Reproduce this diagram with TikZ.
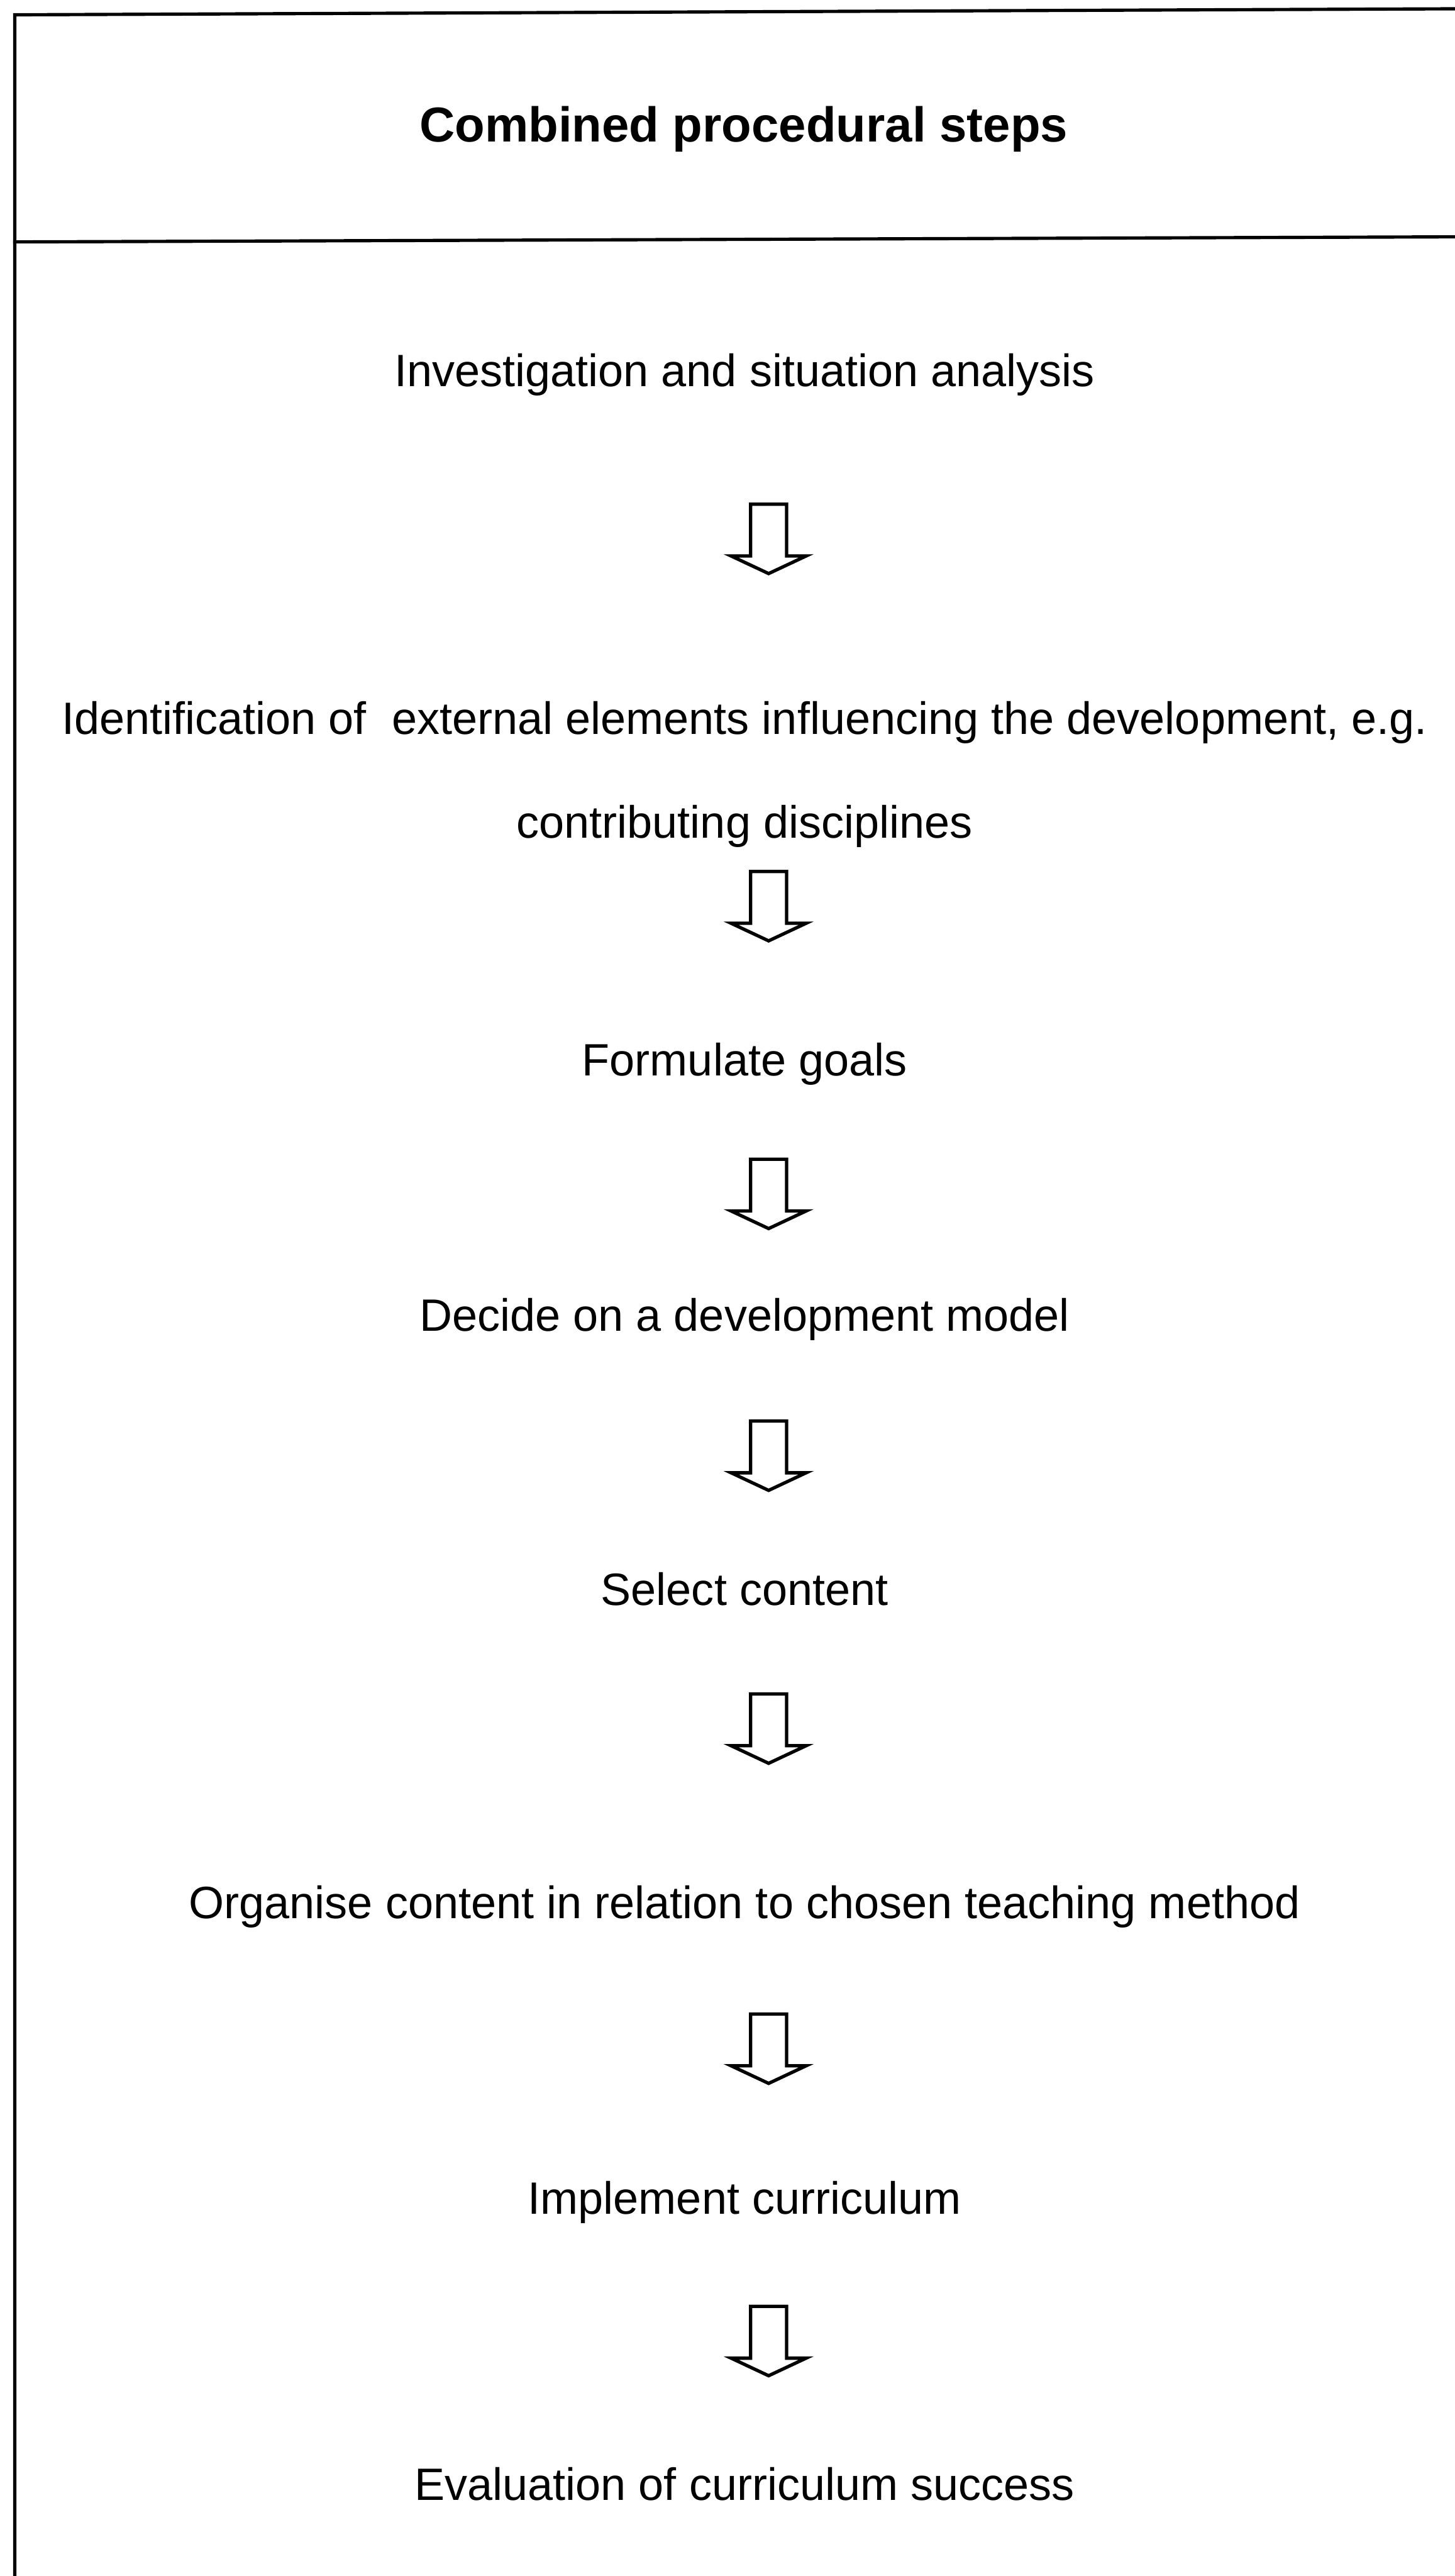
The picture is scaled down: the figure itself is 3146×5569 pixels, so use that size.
\documentclass[tikz,border=0pt]{standalone}
\usepackage{fontspec}
\setmainfont{Liberation Sans}
\begin{document}
\begin{tikzpicture}[x=0.25pt,y=-0.25pt,
  rule/.style={line width=1.75pt, line cap=rect},
  steptext/.style={anchor=base, inner sep=0pt, font=\fontsize{24.5}{28}\selectfont},
  titletext/.style={anchor=base, inner sep=0pt, font=\fontsize{26.5}{30}\selectfont\bfseries},
  flowarrow/.pic={\draw[line width=1.8pt, line join=miter, fill=white]
     (-39,0) -- (39,0) -- (39,112) -- (81,112) -- (0,150) -- (-81,112) -- (-39,112) -- cycle;}
]
\useasboundingbox (0,0) rectangle (3146,5569);

% table frame: top rule, left rule, header separator
\draw[rule] (3146,19) -- (32,32) -- (32,5569);
\draw[rule] (32,523) -- (3146,512);

% header
\node[titletext] (title) at (1608,306) {Combined procedural steps};

% steps
\node[steptext] (s1)  at (1610,835)  {Investigation and situation analysis};
\node[steptext] (s2a) at (1610,1588) {Identification of\ \ external elements influencing the development, e.g.};
\node[steptext] (s2b) at (1610,1812) {contributing disciplines};
\node[steptext] (s3)  at (1610,2326) {Formulate goals};
\node[steptext] (s4)  at (1610,2877) {Decide on a development model};
\node[steptext] (s5)  at (1610,3470) {Select content};
\node[steptext] (s6)  at (1610,4148) {Organise content in relation to chosen teaching method};
\node[steptext] (s7)  at (1610,4787) {Implement curriculum};
\node[steptext] (s8)  at (1610,5405) {Evaluation of curriculum success};

% block arrows between the steps
\pic (a1) at (1662,1090) {flowarrow};
\pic (a2) at (1662,1884) {flowarrow};
\pic (a3) at (1662,2506) {flowarrow};
\pic (a4) at (1662,3072) {flowarrow};
\pic (a5) at (1662,3662) {flowarrow};
\pic (a6) at (1662,4354) {flowarrow};
\pic (a7) at (1662,4986) {flowarrow};
\end{tikzpicture}
\end{document}
